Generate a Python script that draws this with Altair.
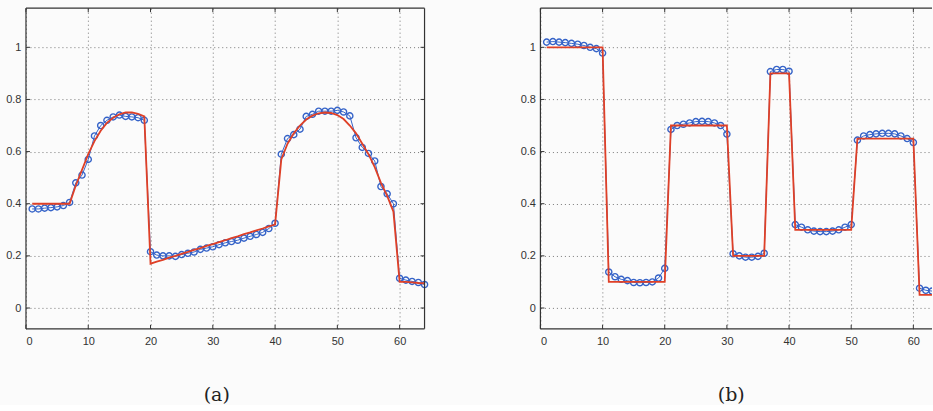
import altair as alt
import pandas as pd

x_vals = list(range(1, 65))

a_est = [0.38, 0.38, 0.383, 0.385, 0.388, 0.393, 0.405,
         0.48, 0.51, 0.57, 0.66, 0.70, 0.72, 0.733, 0.74, 0.735, 0.733, 0.73, 0.72,
         0.216, 0.203, 0.20, 0.20, 0.198, 0.205, 0.21, 0.215, 0.225, 0.23, 0.235,
         0.243, 0.25, 0.255, 0.26, 0.268, 0.275, 0.282, 0.29, 0.305, 0.325,
         0.59, 0.65, 0.665, 0.686, 0.735, 0.743, 0.755, 0.755, 0.755, 0.758,
         0.752, 0.737, 0.653, 0.616, 0.593, 0.564, 0.466, 0.438, 0.40,
         0.114, 0.107, 0.102, 0.098, 0.09]

a_true = [0.40, 0.40, 0.40, 0.40, 0.40, 0.40, 0.40,
          0.47, 0.53, 0.59, 0.64, 0.68, 0.71, 0.73, 0.743, 0.75, 0.75, 0.745, 0.735,
          0.170, 0.178, 0.185, 0.193, 0.200, 0.208, 0.215, 0.223, 0.230, 0.238, 0.245,
          0.253, 0.260, 0.268, 0.275, 0.283, 0.290, 0.298, 0.305, 0.313, 0.320,
          0.57, 0.63, 0.67, 0.70, 0.723, 0.738, 0.747, 0.75, 0.748, 0.74,
          0.725, 0.70, 0.67, 0.63, 0.59, 0.54, 0.48, 0.43, 0.37,
          0.10, 0.10, 0.098, 0.096, 0.095]

b_est = [1.02, 1.022, 1.02, 1.018, 1.015, 1.012, 1.007, 1.0, 0.995, 0.978,
         0.138, 0.12, 0.11, 0.105, 0.098, 0.097, 0.098, 0.10, 0.115, 0.152,
         0.685, 0.70, 0.705, 0.71, 0.715, 0.716, 0.715, 0.71, 0.70, 0.667,
         0.208, 0.20, 0.195, 0.195, 0.198, 0.21,
         0.907, 0.915, 0.915, 0.908,
         0.32, 0.31, 0.30, 0.295, 0.293, 0.293, 0.295, 0.30, 0.31, 0.32,
         0.644, 0.66, 0.665, 0.668, 0.67, 0.67, 0.668, 0.66, 0.65, 0.635,
         0.076, 0.068, 0.065, 0.06]

b_true = [1.0, 1.0, 1.0, 1.0, 1.0, 1.0, 1.0, 1.0, 1.0, 1.0,
          0.1, 0.1, 0.1, 0.1, 0.1, 0.1, 0.1, 0.1, 0.1, 0.1,
          0.7, 0.7, 0.7, 0.7, 0.7, 0.7, 0.7, 0.7, 0.7, 0.7,
          0.2, 0.2, 0.2, 0.2, 0.2, 0.2,
          0.9, 0.9, 0.9, 0.9,
          0.3, 0.3, 0.3, 0.3, 0.3, 0.3, 0.3, 0.3, 0.3, 0.3,
          0.65, 0.65, 0.65, 0.65, 0.65, 0.65, 0.65, 0.65, 0.65, 0.65,
          0.05, 0.05, 0.05, 0.05]

x_ticks = [0, 10, 20, 30, 40, 50, 60]
y_ticks = [0, 0.2, 0.4, 0.6, 0.8, 1]
captions = ["(a)", "(b)"]

BLUE = "#3563c8"
RED = "#df4027"
FRAME = "#333333"
H = 321


def panel(est, true, caption, width, xmax, right_frame, clip):
    df = pd.DataFrame({"x": x_vals, "est": est, "true": true})
    xt = pd.DataFrame({"t": x_ticks})
    yt = pd.DataFrame({"t": y_ticks})
    one = pd.DataFrame({"k": [0]})
    xs = alt.Scale(domain=[0, xmax], nice=False, zero=False)
    ys = alt.Scale(domain=[-0.08, 1.15], nice=False, zero=False)
    full_w = 399
    xax = alt.Axis(values=x_ticks, format="~g", grid=True, gridDash=[1, 3],
                   gridColor="#777777", gridWidth=1, domain=False, tickSize=0,
                   labelPadding=7, labelFont="Liberation Sans", labelFontSize=11,
                   labelColor="#333333", title=caption,
                   titleFont="DejaVu Serif", titleFontSize=19,
                   titleFontWeight="normal", titleColor="#222222",
                   titlePadding=39, titleX=full_w / 2 - 9, titleAlign="center")
    yax = alt.Axis(values=y_ticks, format="~g", grid=True, gridDash=[1, 3],
                   gridColor="#777777", gridWidth=1, domain=False, tickSize=0,
                   labelPadding=5, labelFont="Liberation Sans", labelFontSize=11,
                   labelColor="#333333", title=None)
    base = alt.Chart(df)
    blue_line = base.mark_line(color=BLUE, strokeWidth=1, clip=clip).encode(
        x=alt.X("x:Q", scale=xs, axis=xax),
        y=alt.Y("est:Q", scale=ys, axis=yax))
    circles = base.mark_point(shape="circle", size=38, color=BLUE,
                              strokeWidth=1.4, filled=False, opacity=1,
                              clip=clip).encode(x="x:Q", y="est:Q")
    red = base.mark_line(color=RED, strokeWidth=1.8, clip=clip).encode(
        x="x:Q", y="true:Q")
    ty_l = alt.Chart(yt).mark_rule(color=FRAME, strokeWidth=1).encode(
        y=alt.Y("t:Q", scale=ys), x=alt.value(0), x2=alt.value(4))
    tx_b = alt.Chart(xt).mark_rule(color=FRAME, strokeWidth=1).encode(
        x=alt.X("t:Q", scale=xs), y=alt.value(H - 4), y2=alt.value(H))
    tx_t = alt.Chart(xt).mark_rule(color=FRAME, strokeWidth=1).encode(
        x=alt.X("t:Q", scale=xs), y=alt.value(0), y2=alt.value(4))
    fr = alt.Chart(one)
    f_left = fr.mark_rule(color=FRAME, strokeWidth=1.2).encode(
        x=alt.value(0), y=alt.value(0), y2=alt.value(H))
    f_top = fr.mark_rule(color=FRAME, strokeWidth=1.2).encode(
        y=alt.value(0), x=alt.value(0), x2=alt.value(width))
    f_bot = fr.mark_rule(color=FRAME, strokeWidth=1.2).encode(
        y=alt.value(H), x=alt.value(0), x2=alt.value(width))
    layers = [blue_line, circles, red, ty_l, tx_b, tx_t, f_left, f_top, f_bot]
    if right_frame:
        ty_r = alt.Chart(yt).mark_rule(color=FRAME, strokeWidth=1).encode(
            y=alt.Y("t:Q", scale=ys), x=alt.value(width - 4), x2=alt.value(width))
        f_right = fr.mark_rule(color=FRAME, strokeWidth=1.2).encode(
            x=alt.value(width), y=alt.value(0), y2=alt.value(H))
        layers += [ty_r, f_right]
    return alt.layer(*layers).properties(width=width, height=H)


left = panel(a_est, a_true, captions[0], 399, 64, True, False)
right = panel(b_est, b_true, captions[1], 392, 63.0, False, True)

chart = alt.hconcat(left, right, spacing=116, bounds="flush").properties(
    padding={"left": 5, "top": 7, "right": 0, "bottom": 0},
    background="#fbfbfb",
).configure_view(stroke=None)

chart.save("out.html", embed_options={"renderer": "svg", "actions": False})
